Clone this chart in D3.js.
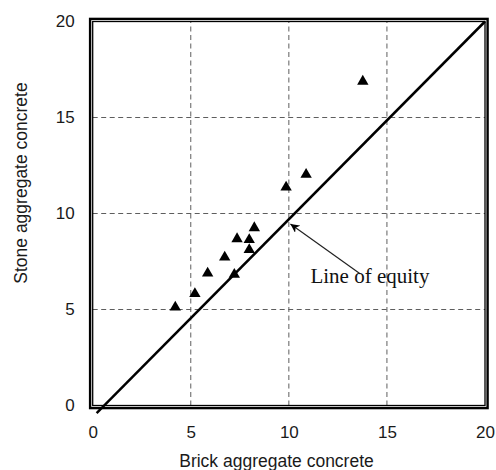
<!DOCTYPE html>
<html>
<head>
<meta charset="utf-8">
<script src="https://cdn.jsdelivr.net/npm/d3@7"></script>
<style>
  body { margin: 0; background: #fff; }
  svg { display: block; }
</style>
</head>
<body>
<div id="chart"></div>
<script>
// brick (x) vs stone (y) aggregate concrete values
const brick = [4.21, 5.21, 5.86, 6.73, 7.22, 7.36, 7.98, 7.98, 8.24, 9.86, 10.88, 13.77];
const stone = [5.12, 5.82, 6.89, 7.72, 6.82, 8.68, 8.63, 8.11, 9.25, 11.37, 12.03, 16.88];
const xTicks = [0, 5, 10, 15, 20];
const yTicks = [0, 5, 10, 15, 20];
const equityLine = [[0.2, -0.4], [20, 20]];
const arrowFrom = [13.65, 6.85];
const arrowTo = [10.08, 9.45];
const noteText = 'Line of equity';
const notePos = [11.1, 6.4];

const W = 496, H = 470;
const x = d3.scaleLinear().domain([0, 20]).range([92.7, 485]);
const y = d3.scaleLinear().domain([0, 20]).range([405.5, 21.5]);

const svg = d3.select('#chart').append('svg')
    .attr('width', W)
    .attr('height', H);

// dashed grid
svg.append('g')
    .selectAll('line')
    .data(xTicks.slice(1, -1))
    .enter().append('line')
    .attr('x1', d => x(d)).attr('x2', d => x(d))
    .attr('y1', y(0)).attr('y2', y(20))
    .attr('stroke', '#5e5e5e')
    .attr('stroke-width', 1)
    .attr('stroke-dasharray', '5,3.5');

svg.append('g')
    .selectAll('line')
    .data(yTicks.slice(1, -1))
    .enter().append('line')
    .attr('x1', x(0)).attr('x2', x(20))
    .attr('y1', d => y(d)).attr('y2', d => y(d))
    .attr('stroke', '#5e5e5e')
    .attr('stroke-width', 1)
    .attr('stroke-dasharray', '5,3.5');

// axes (labels only)
const xAxis = d3.axisBottom(x).tickValues(xTicks).tickSize(0).tickPadding(20);
const yAxis = d3.axisLeft(y).tickValues(yTicks).tickSize(0).tickPadding(18);

const gx = svg.append('g').attr('transform', 'translate(0,' + y(0) + ')').call(xAxis);
const gy = svg.append('g').attr('transform', 'translate(' + x(0) + ',0)').call(yAxis);
[gx, gy].forEach(g => {
    g.select('.domain').remove();
    g.selectAll('text')
        .style('font-family', '"Liberation Sans", Arial, sans-serif')
        .style('font-size', '17px')
        .attr('fill', '#1a1a1a');
});

// frame: thin inner + thick outer
svg.append('rect')
    .attr('x', x(0)).attr('y', y(20))
    .attr('width', x(20) - x(0)).attr('height', y(0) - y(20))
    .attr('fill', 'none').attr('stroke', '#000').attr('stroke-width', 1.3);
svg.append('rect')
    .attr('x', x(0) - 2.6).attr('y', y(20) - 2.6)
    .attr('width', x(20) - x(0) + 5.2).attr('height', y(0) - y(20) + 5.2)
    .attr('fill', 'none').attr('stroke', '#000').attr('stroke-width', 2.4);

// line of equity
svg.append('path')
    .datum(equityLine)
    .attr('d', d3.line().x(d => x(d[0])).y(d => y(d[1])))
    .attr('fill', 'none')
    .attr('stroke', '#000')
    .attr('stroke-width', 2.5);

// points
svg.append('g')
    .selectAll('path')
    .data(brick.map((b, i) => [b, stone[i]]))
    .enter().append('path')
    .attr('transform', d => 'translate(' + x(d[0]) + ',' + y(d[1]) + ')')
    .attr('d', d3.symbol().type(d3.symbolTriangle).size(56))
    .attr('fill', '#000');

// annotation
svg.append('defs').append('marker')
    .attr('id', 'arrow')
    .attr('viewBox', '0 0 10 10')
    .attr('refX', 10).attr('refY', 5)
    .attr('markerWidth', 9).attr('markerHeight', 9)
    .attr('markerUnits', 'userSpaceOnUse')
    .attr('orient', 'auto')
    .append('path')
    .attr('d', 'M0,0 L10,5 L0,10 L3,5 Z')
    .attr('fill', '#000');

svg.append('line')
    .attr('x1', x(arrowFrom[0])).attr('y1', y(arrowFrom[1]))
    .attr('x2', x(arrowTo[0])).attr('y2', y(arrowTo[1]))
    .attr('stroke', '#222')
    .attr('stroke-width', 1.2)
    .attr('marker-end', 'url(#arrow)');

svg.append('text')
    .attr('x', x(notePos[0]))
    .attr('y', y(notePos[1]))
    .style('font-family', '"Liberation Serif", "Times New Roman", serif')
    .style('font-size', '21px')
    .attr('fill', '#111')
    .text(noteText);

// axis titles
svg.append('text')
    .attr('x', 276.5).attr('y', 467)
    .attr('text-anchor', 'middle')
    .style('font-family', '"Liberation Sans", Arial, sans-serif')
    .style('font-size', '17.5px')
    .attr('fill', '#1a1a1a')
    .text('Brick aggregate concrete');

svg.append('text')
    .attr('transform', 'translate(26.5,183)rotate(-90)')
    .attr('text-anchor', 'middle')
    .style('font-family', '"Liberation Sans", Arial, sans-serif')
    .style('font-size', '17.5px')
    .attr('fill', '#1a1a1a')
    .text('Stone aggregate concrete');
</script>
</body>
</html>
